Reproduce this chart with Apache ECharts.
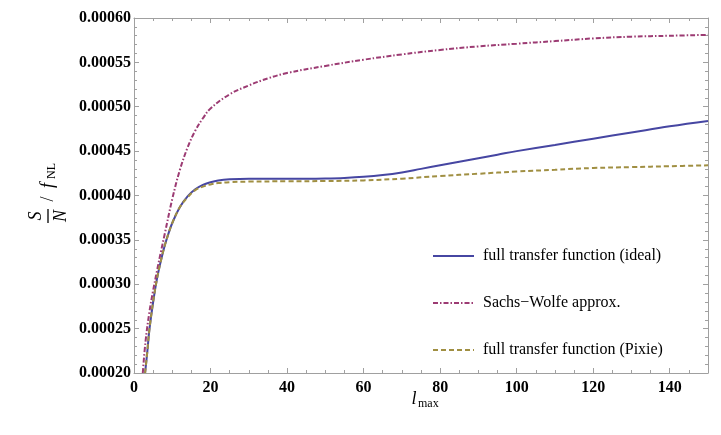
<!DOCTYPE html>
<html>
<head>
<meta charset="utf-8">
<script src="https://cdn.jsdelivr.net/npm/echarts@6/dist/echarts.min.js"></script>
<style>
  html, body { margin: 0; padding: 0; background: #fff; }
  #chart { width: 721px; height: 435px; }
</style>
</head>
<body>
<div id="chart"></div>
<script>
    // l_max values and S/N per f_NL
    var idealX = [2.9, 3.5, 4, 5, 6, 7, 8, 9, 10, 12, 14, 16, 18, 20, 22, 25, 30, 35, 40, 45, 50, 55, 60, 65, 70, 75, 80, 85, 90, 95, 100, 110, 120, 130, 140, 150];
    var idealY = [0.000200, 0.000225, 0.000248, 0.000280, 0.000306, 0.000326, 0.000343, 0.000357, 0.000369, 0.000387, 0.000399, 0.000407, 0.000412, 0.000415, 0.000417, 0.0004183, 0.000419, 0.000419, 0.000419, 0.000419, 0.0004192, 0.0004198, 0.000421, 0.000423, 0.000426, 0.000430, 0.000434, 0.000438, 0.000442, 0.000446, 0.000450, 0.000457, 0.000464, 0.000471, 0.000478, 0.000484];

    var swX = [2.3, 3, 4, 5, 6, 7, 8, 10, 12, 14, 16, 18, 20, 25, 30, 35, 40, 50, 60, 70, 80, 90, 100, 110, 120, 130, 140, 150];
    var swY = [0.000200, 0.000235, 0.000268, 0.000293, 0.000315, 0.000336, 0.000356, 0.000396, 0.000429, 0.000454, 0.000473, 0.000487, 0.000498, 0.000514, 0.000524, 0.000532, 0.000538, 0.000546, 0.000553, 0.000559, 0.000564, 0.000568, 0.000571, 0.000574, 0.000577, 0.000579, 0.000580, 0.000581];

    var pixieX = [2.9, 3.5, 4, 5, 6, 7, 8, 9, 10, 12, 14, 16, 18, 20, 22, 25, 30, 40, 50, 60, 70, 80, 90, 100, 110, 120, 130, 140, 150];
    var pixieY = [0.000200, 0.000225, 0.000248, 0.000280, 0.000306, 0.000326, 0.000343, 0.000357, 0.000369, 0.000387, 0.000398, 0.000406, 0.000410, 0.0004125, 0.000414, 0.000415, 0.0004157, 0.000416, 0.0004163, 0.000417, 0.000419, 0.000422, 0.0004245, 0.000427, 0.000429, 0.000431, 0.000432, 0.000433, 0.000434];

    var seriesNames = ['full transfer function (ideal)', 'Sachs\u2212Wolfe approx.', 'full transfer function (Pixie)'];
    var colors = ['#4646a2', '#9c3b73', '#a08f42'];

    var serif = "'Liberation Serif', 'DejaVu Serif', serif";

    function zip(xs, ys) {
        var out = [];
        for (var i = 0; i < xs.length; i++) out.push([xs[i], ys[i]]);
        return out;
    }

    function lineSeries(name, data, color, type) {
        return {
            name: name,
            type: 'line',
            data: data,
            showSymbol: false,
            symbol: 'none',
            smooth: 0.4,
            lineStyle: { color: color, width: 2, type: type },
            itemStyle: { color: color }
        };
    }

    // frame axes: ticks inside, gray lines, like Mathematica
    function frameX(position, labels) {
        return {
            type: 'value', position: position, min: 0, max: 150, interval: 20,
            axisLine: { show: true, onZero: false, lineStyle: { color: '#a0a0a0', width: 1 } },
            axisTick: { show: true, inside: true, length: 5, lineStyle: { color: '#a0a0a0' } },
            minorTick: { show: true, splitNumber: 4, length: 3, lineStyle: { color: '#a0a0a0' } },
            splitLine: { show: false },
            axisLabel: {
                show: labels, showMaxLabel: false, margin: 7,
                color: '#000', fontFamily: serif, fontWeight: 'bold', fontSize: 16
            }
        };
    }

    function frameY(position, labels) {
        return {
            type: 'value', position: position, min: 0.0002, max: 0.0006, interval: 0.00005,
            axisLine: { show: true, onZero: false, lineStyle: { color: '#a0a0a0', width: 1 } },
            axisTick: { show: true, inside: true, length: 5, lineStyle: { color: '#a0a0a0' } },
            minorTick: { show: true, splitNumber: 5, length: 3, lineStyle: { color: '#a0a0a0' } },
            splitLine: { show: false },
            axisLabel: {
                show: labels, margin: 3,
                color: '#000', fontFamily: serif, fontWeight: 'bold', fontSize: 16,
                formatter: function(v) { return v.toFixed(5); }
            }
        };
    }

    function txt(text, x, y, size, style, align) {
        return {
            type: 'text', x: x, y: y,
            style: {
                text: text, fill: '#000',
                font: style + ' ' + size + 'px ' + serif,
                textAlign: align || 'center', align: align || 'center',
                textVerticalAlign: 'middle', verticalAlign: 'middle'
            }
        };
    }

    var chart = echarts.init(document.getElementById('chart'));

    chart.setOption({
        animation: false,
        backgroundColor: '#fff',
        grid: { left: 134, right: 13, top: 18, bottom: 62 },
        xAxis: [frameX('bottom', true), frameX('top', false)],
        yAxis: [frameY('left', true), frameY('right', false)],
        legend: {
            orient: 'vertical',
            left: 427, top: 243,
            itemWidth: 41, itemHeight: 14, itemGap: 31,
            itemStyle: { opacity: 0 },
            textStyle: { fontFamily: serif, fontSize: 16, color: '#000', padding: [0, 0, 0, 4] },
            data: seriesNames
        },
        series: [
            lineSeries(seriesNames[0], zip(idealX, idealY), colors[0], 'solid'),
            lineSeries(seriesNames[1], zip(swX, swY), colors[1], [5, 2, 1.5, 2]),
            lineSeries(seriesNames[2], zip(pixieX, pixieY), colors[2], [5, 3])
        ],
        graphic: [
            // y axis title: S/N / f_NL, rotated
            {
                type: 'group', x: 48, y: 216, rotation: Math.PI / 2,
                children: [
                    txt('S', 0, -12, 18, 'italic'),
                    txt('N', 0, 13, 18, 'italic'),
                    { type: 'line', shape: { x1: -7, y1: 0, x2: 7, y2: 0 }, style: { stroke: '#000', lineWidth: 1.3 } },
                    txt('/', 17, 0, 18, 'normal'),
                    txt('f', 28, 0, 18, 'italic', 'left'),
                    txt('NL', 37, 4, 12, 'normal', 'left')
                ]
            },
            // x axis title: l_max
            txt('l', 414, 399, 18, 'italic'),
            txt('max', 418, 404, 12, 'normal', 'left')
        ]
    });
</script>
</body>
</html>
